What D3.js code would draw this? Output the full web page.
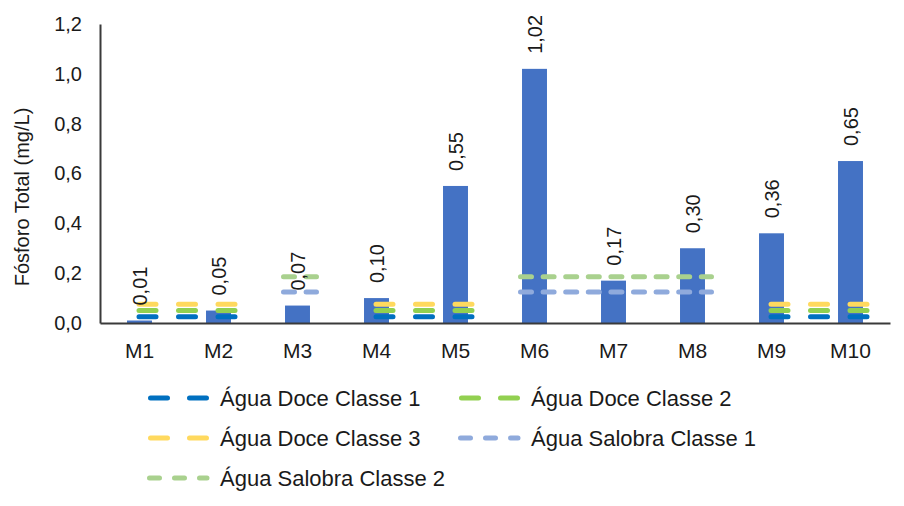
<!DOCTYPE html>
<html>
<head>
<meta charset="utf-8">
<script src="https://cdn.jsdelivr.net/npm/d3@7.9.0/dist/d3.min.js"></script>
<style>
  html, body { margin: 0; padding: 0; background: #fff; }
  svg { display: block; font-family: "Liberation Sans", Arial, sans-serif; }
</style>
</head>
<body>
<svg id="chart" width="904" height="506"></svg>
<script>
// data
const categories = ['M1', 'M2', 'M3', 'M4', 'M5', 'M6', 'M7', 'M8', 'M9', 'M10'];
const fosforo = [0.01, 0.05, 0.07, 0.10, 0.55, 1.02, 0.17, 0.30, 0.36, 0.65];

// reference limits (null = not drawn for that point)
const doceClasse1 = [0.025, 0.025, null, 0.025, 0.025, null, null, null, 0.025, 0.025];
const doceClasse2 = [0.05, 0.05, null, 0.05, 0.05, null, null, null, 0.05, 0.05];
const doceClasse3 = [0.075, 0.075, null, 0.075, 0.075, null, null, null, 0.075, 0.075];
const salobraClasse1 = [null, null, 0.124, null, null, 0.124, 0.124, 0.124, null, null];
const salobraClasse2 = [null, null, 0.186, null, null, 0.186, 0.186, 0.186, null, null];

const yTicks = [0, 0.2, 0.4, 0.6, 0.8, 1.0, 1.2];

const series = [
  { name: 'Água Doce Classe 1', values: doceClasse1, color: '#0070C0', kind: 'doce' },
  { name: 'Água Doce Classe 2', values: doceClasse2, color: '#92D050', kind: 'doce' },
  { name: 'Água Doce Classe 3', values: doceClasse3, color: '#FFD95E', kind: 'doce' },
  { name: 'Água Salobra Classe 1', values: salobraClasse1, color: '#8FAADC', kind: 'salobra' },
  { name: 'Água Salobra Classe 2', values: salobraClasse2, color: '#A9D18E', kind: 'salobra' }
];

// dash styles (round caps add the line width to each dash)
const dashStyle = {
  doce: { dash: '17 22.5', padL: 0.5, padR: 17.5 },
  salobra: { dash: '11 11.6', padL: 14, padR: 19 }
};

const ptBR = d3.formatLocale({ decimal: ',', thousands: '.', grouping: [3], currency: ['R$', ''] });
const fmt1 = ptBR.format('.1f');
const fmt2 = ptBR.format('.2f');

const svg = d3.select('#chart');
const textColor = '#1a1a1a';

const x = d3.scaleBand()
  .domain(categories)
  .range([100, 890])
  .paddingInner(0.684)
  .paddingOuter(0.342);

const y = d3.scaleLinear()
  .domain([0, 1.2])
  .range([323, 24]);

const cx = (c) => x(c) + x.bandwidth() / 2;

// bars
svg.append('g')
  .selectAll('rect')
  .data(fosforo)
  .join('rect')
  .attr('x', (d, i) => x(categories[i]))
  .attr('y', (d) => y(d))
  .attr('width', x.bandwidth())
  .attr('height', (d) => y(0) - y(d))
  .attr('fill', '#4472C4');

// limit lines, one path per run of consecutive points
const lineGen = d3.line().x((p) => p[0]).y((p) => p[1]);
const linesG = svg.append('g');
series.forEach((s) => {
  const st = dashStyle[s.kind];
  let run = [];
  const flush = () => {
    if (!run.length) return;
    const pts = run.map((i) => [cx(categories[i]), y(s.values[i])]);
    pts.unshift([pts[0][0] - st.padL, pts[0][1]]);
    pts.push([pts[pts.length - 1][0] + st.padR, pts[pts.length - 1][1]]);
    linesG.append('path')
      .attr('d', lineGen(pts))
      .attr('fill', 'none')
      .attr('stroke', s.color)
      .attr('stroke-width', 5)
      .attr('stroke-linecap', 'round')
      .attr('stroke-dasharray', st.dash);
    run = [];
  };
  s.values.forEach((v, i) => {
    if (v == null) flush();
    else run.push(i);
  });
  flush();
});

// data labels, rotated
svg.append('g')
  .selectAll('text')
  .data(fosforo)
  .join('text')
  .attr('transform', (d, i) => `translate(${cx(categories[i])},${y(d) - 15}) rotate(-90)`)
  .attr('dy', '0.35em')
  .attr('text-anchor', 'start')
  .attr('font-size', 20)
  .attr('fill', textColor)
  .text((d) => fmt2(d));

// axes
const yAxis = svg.append('g')
  .attr('transform', 'translate(100,0)')
  .call(d3.axisLeft(y).tickValues(yTicks).tickFormat(fmt1).tickSize(0).tickPadding(18));

const xAxis = svg.append('g')
  .attr('transform', `translate(0,${y(0)})`)
  .call(d3.axisBottom(x).tickSize(0).tickPadding(20));

[yAxis, xAxis].forEach((g) => {
  g.select('.domain').attr('stroke', '#3a3a3a').attr('stroke-width', 2);
  g.selectAll('text').attr('font-family', null).attr('fill', textColor);
});
yAxis.selectAll('text').attr('font-size', 20);
xAxis.selectAll('text').attr('font-size', 21);

// axis title
svg.append('text')
  .attr('transform', 'translate(22,197) rotate(-90)')
  .attr('text-anchor', 'middle')
  .attr('dy', '0.35em')
  .attr('font-size', 20)
  .attr('fill', textColor)
  .text('Fósforo Total (mg/L)');

// legend: two columns, three rows
const legend = svg.append('g');
const legendItem = legend.selectAll('g')
  .data(series)
  .join('g')
  .attr('transform', (d, i) => `translate(${i % 2 === 0 ? 147 : 458},${398 + Math.floor(i / 2) * 40})`);

legendItem.append('line')
  .attr('x1', (d) => d.kind === 'doce' ? 3.5 : 2.5)
  .attr('x2', 60)
  .attr('stroke', (d) => d.color)
  .attr('stroke-width', 5)
  .attr('stroke-linecap', 'round')
  .attr('stroke-dasharray', (d) => d.kind === 'doce' ? '17 22' : '10 15');

legendItem.append('text')
  .attr('x', 73)
  .attr('dy', '0.35em')
  .attr('font-size', 22)
  .attr('fill', textColor)
  .text((d) => d.name);
</script>
</body>
</html>
